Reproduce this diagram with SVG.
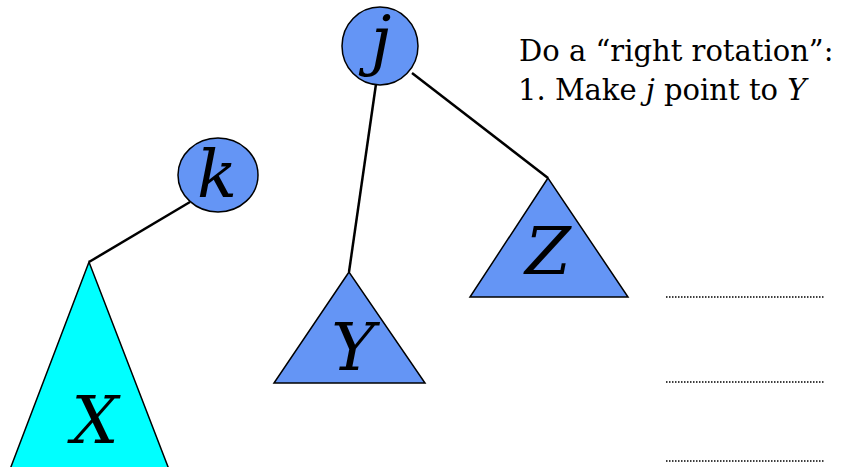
<svg xmlns="http://www.w3.org/2000/svg" width="843" height="467" viewBox="0 0 843 467">
<style>
.node{fill:#6495F5;stroke:#000;stroke-width:1.5}
.edge{stroke:#000;stroke-width:2.5;fill:none}
.lbl{font-family:'DejaVu Serif','Liberation Serif',serif;font-style:italic;font-size:66px;fill:#000;text-anchor:middle}
.txt{font-family:'DejaVu Serif','Liberation Serif',serif;font-size:29px;fill:#000}
.dot{stroke:#000;stroke-width:1.5;stroke-dasharray:1.5 1.5}
</style>
<rect width="843" height="467" fill="#fff"/>
<g id="connectors">
<line class="edge" x1="89" y1="262" x2="190" y2="202"/>
<line class="edge" x1="376" y1="84" x2="349" y2="272"/>
<line class="edge" x1="412" y1="73" x2="548" y2="178"/>
</g>
<g id="node-j"><ellipse class="node" cx="380" cy="46" rx="38" ry="39"/><text class="lbl" x="381" y="62">j</text></g>
<g id="node-k"><ellipse class="node" cx="218" cy="175" rx="40" ry="37"/><text class="lbl" x="217" y="197">k</text></g>
<g id="tree-X"><polygon points="89,262 9,472 170,472" fill="#00FFFF" stroke="#000" stroke-width="1.5"/><text class="lbl" x="95" y="443">X</text></g>
<g id="tree-Y"><polygon class="node" points="349,272 274,383 425,383"/><text class="lbl" x="353" y="370">Y</text></g>
<g id="tree-Z"><polygon class="node" points="548,178 470,297 628,297"/><text class="lbl" x="548" y="274">Z</text></g>
<g id="notes">
<text class="txt" x="519" y="61">Do a “right rotation”:</text>
<text class="txt" x="518" y="100">1. Make <tspan font-style="italic">j</tspan> point to <tspan font-style="italic">Y</tspan></text>
<line class="dot" x1="666" y1="297" x2="824" y2="297"/>
<line class="dot" x1="666" y1="382" x2="824" y2="382"/>
<line class="dot" x1="666" y1="461" x2="824" y2="461"/>
</g>
</svg>
